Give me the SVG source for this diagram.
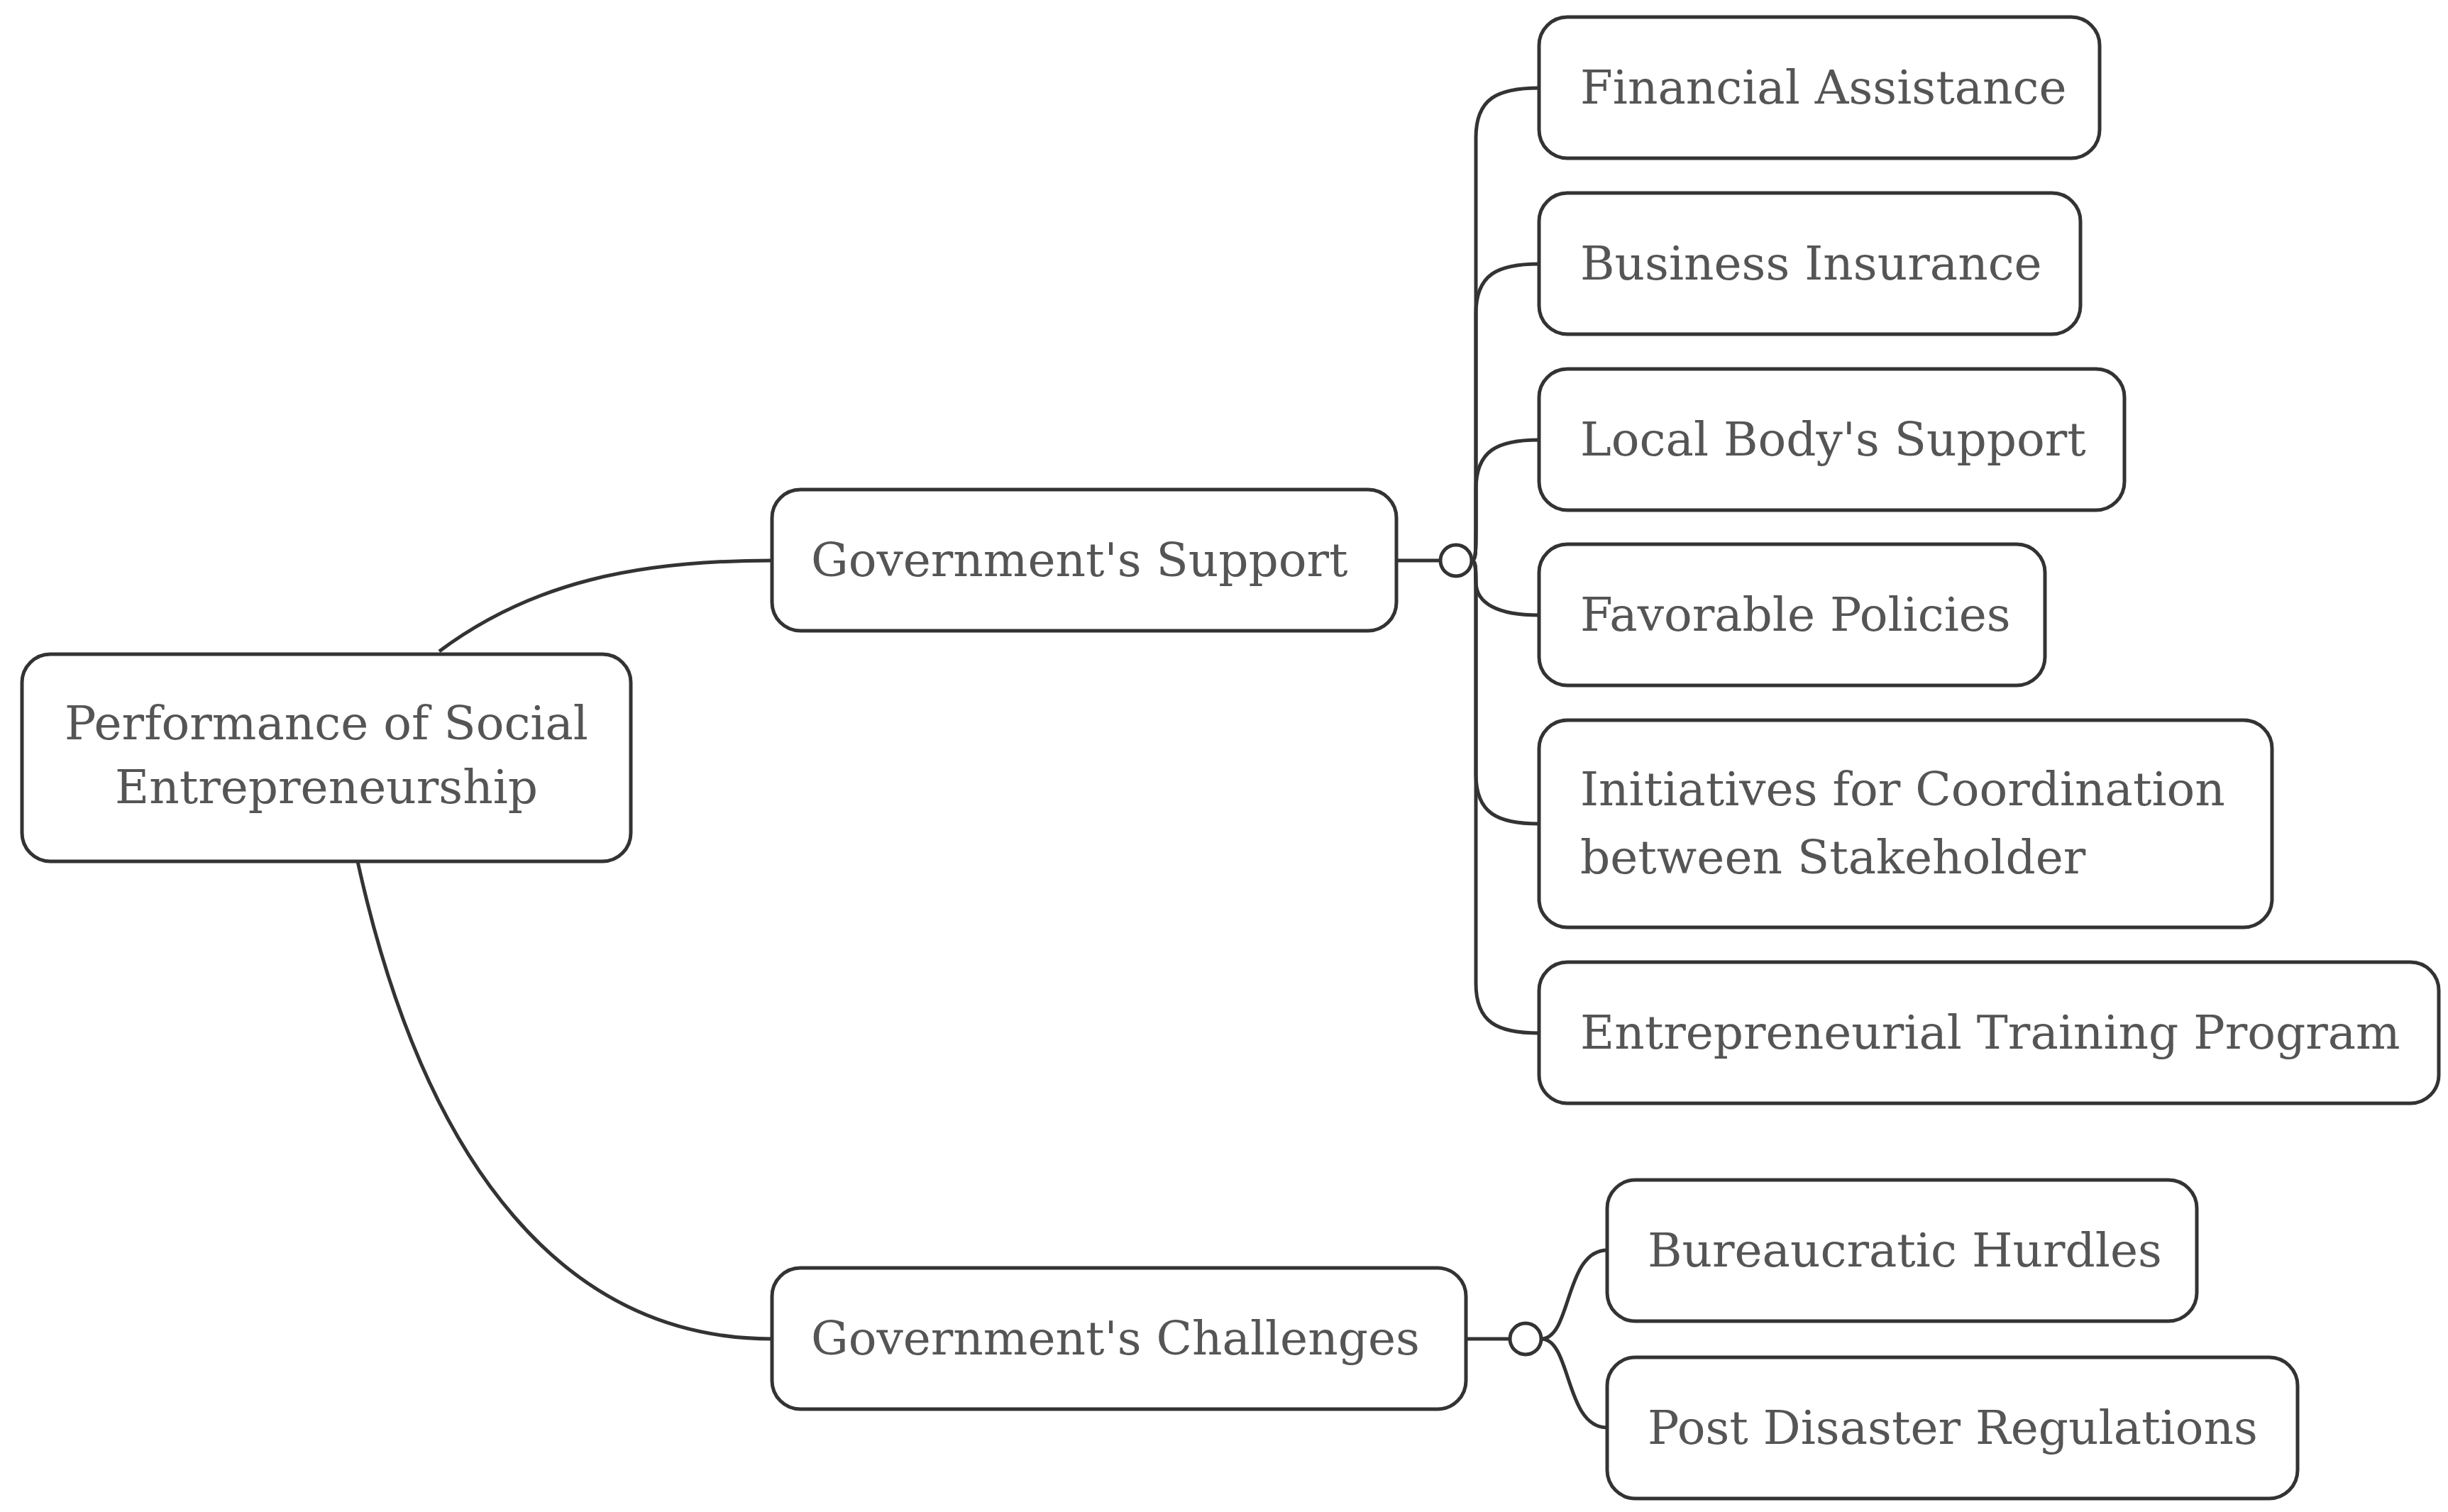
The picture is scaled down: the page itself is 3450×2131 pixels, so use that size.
<svg xmlns="http://www.w3.org/2000/svg" width="3450" height="2131" viewBox="0 0 3450 2131">
<style>
.n{fill:#fff;stroke:#333;stroke-width:5}
.t{font-family:"DejaVu Serif","Liberation Serif",serif;font-size:66px;fill:#555}
.c{fill:none;stroke:#333;stroke-width:5}
</style>
<rect width="3450" height="2131" fill="#fff"/>
<g id="connectors">
<path class="c" d="M619,918 C750,820 900,790 1088,790"/>
<path class="c" d="M504,1214 C600,1650 800,1887 1088,1887"/>
<path class="c" d="M1968,790 L2030,790"/>
<path class="c" d="M2074,790 C2080,790 2080,780 2080,740 L2080,194 C2080,139 2110,124 2169,124"/>
<path class="c" d="M2074,790 C2080,790 2080,780 2080,740 L2080,442 C2080,387 2110,372 2169,372"/>
<path class="c" d="M2074,790 C2080,790 2080,780 2080,740 L2080,690 C2080,635 2110,620 2169,620"/>
<path class="c" d="M2074,790 C2080,790 2080,800 2080,820 C2080,850 2110,867 2169,867"/>
<path class="c" d="M2074,790 C2080,790 2080,800 2080,840 L2080,1091 C2080,1146 2110,1161 2169,1161"/>
<path class="c" d="M2074,790 C2080,790 2080,800 2080,840 L2080,1386 C2080,1441 2110,1456 2169,1456"/>
<circle class="n" cx="2052" cy="790" r="22"/>
<path class="c" d="M2066,1887 L2128,1887"/>
<path class="c" d="M2172,1887 C2215,1887 2205,1762 2265,1762"/>
<path class="c" d="M2172,1887 C2215,1887 2205,2012 2265,2012"/>
<circle class="n" cx="2150" cy="1887" r="22"/>
</g>
<g id="root"><rect class="n" x="31" y="922" width="858" height="292" rx="40"/>
<text class="t" x="460" y="1042" text-anchor="middle">Performance of Social</text>
<text class="t" x="460" y="1132" text-anchor="middle">Entrepreneurship</text></g>
<g id="support"><rect class="n" x="1088" y="690" width="880" height="199" rx="40"/><text class="t" x="1143" y="812">Government's Support</text></g>
<g id="challenges"><rect class="n" x="1088" y="1787" width="978" height="199" rx="40"/><text class="t" x="1143" y="1909">Government's Challenges</text></g>
<g id="financial"><rect class="n" x="2169" y="24" width="790" height="199" rx="40"/><text class="t" x="2227" y="146">Financial Assistance</text></g>
<g id="insurance"><rect class="n" x="2169" y="272" width="763" height="199" rx="40"/><text class="t" x="2227" y="394">Business Insurance</text></g>
<g id="local"><rect class="n" x="2169" y="520" width="825" height="199" rx="40"/><text class="t" x="2227" y="642">Local Body's Support</text></g>
<g id="favorable"><rect class="n" x="2169" y="767" width="713" height="199" rx="40"/><text class="t" x="2227" y="889">Favorable Policies</text></g>
<g id="initiatives"><rect class="n" x="2169" y="1015" width="1033" height="292" rx="40"/>
<text class="t" x="2227" y="1135">Initiatives for Coordination</text>
<text class="t" x="2227" y="1231">between Stakeholder</text></g>
<g id="training"><rect class="n" x="2169" y="1356" width="1268" height="199" rx="40"/><text class="t" x="2227" y="1478">Entrepreneurial Training Program</text></g>
<g id="bureaucratic"><rect class="n" x="2265" y="1663" width="831" height="199" rx="40"/><text class="t" x="2322" y="1785">Bureaucratic Hurdles</text></g>
<g id="post"><rect class="n" x="2265" y="1913" width="973" height="199" rx="40"/><text class="t" x="2322" y="2035">Post Disaster Regulations</text></g>
</svg>
